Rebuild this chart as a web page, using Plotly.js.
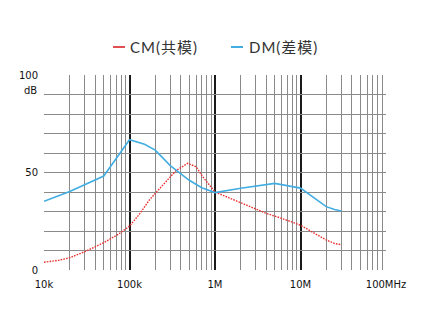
<!DOCTYPE html>
<html>
<head>
<meta charset="utf-8">
<script src="https://cdn.plot.ly/plotly-3.0.1.min.js"></script>
<style>html,body{margin:0;padding:0;background:#fff;}#chart{width:431px;height:310px;}</style>
</head>
<body>
<div id="chart"></div>
<script>
// Frequency (Hz) and attenuation (dB)
const cmFreq = [1e4, 1.5e4, 2e4, 3e4, 5e4, 7.5e4, 1e5, 1.3e5, 1.7e5, 2.7e5, 3.5e5, 4.8e5, 6e5, 7.2e5, 1e6, 2e6, 4e6, 6e6, 1e7, 1.5e7, 2e7, 2.5e7, 3e7];
const cmDb   = [4, 5, 6.3, 9.4, 14, 18.5, 22.5, 28.5, 35.8, 45.3, 51, 54.7, 53, 47.8, 40, 34.5, 29, 26.5, 23, 18.5, 15.4, 13.6, 13];
const dmFreq = [1e4, 2e4, 5e4, 1e5, 1.5e5, 2e5, 3e5, 5e5, 7e5, 1e6, 2e6, 5e6, 1e7, 1.4e7, 2e7, 2.5e7, 3e7];
const dmDb   = [35.2, 40.3, 48.2, 66.8, 64.5, 61.5, 53.5, 46, 42.2, 39.7, 41.9, 44.4, 42, 37.6, 32.5, 31, 30.3];
const seriesNames = ['CM(共模)', 'DM(差模)'];
const seriesColors = ['#e8312f', '#42ade2'];
const legendColors = ['#e05050', '#42ade2'];
const xTickVals = [1e4, 1e5, 1e6, 1e7, 1e8];
const xTickText = ['10k', '100k', '1M', '10M', '100MHz'];
const yTickVals = [0, 10, 20, 30, 40, 50, 60, 70, 80, 90, 100];
const yTickText = ['0', '', '', '', '', '50', '', '', '', '', '100'];

const traces = [
  {x: cmFreq, y: cmDb, name: seriesNames[0], type: 'scatter', mode: 'lines', showlegend: false,
   line: {color: seriesColors[0], width: 1.4, dash: '1.6px,1.2px'}},
  {x: dmFreq, y: dmDb, name: seriesNames[1], type: 'scatter', mode: 'lines', showlegend: false,
   line: {color: seriesColors[1], width: 1.6}}
];

const lf = {family: 'Lato, Noto Sans CJK SC, sans-serif', size: 15, color: '#333'};
// helpers converting pixel layout positions to paper fractions (plot spans px 44..386, 75..270)
const px = p => (p - 44) / 342;
const py = p => (270 - p) / 195;
const ly = py(47);

const layout = {
  width: 431, height: 310,
  margin: {l: 44, r: 45, t: 75, b: 40},
  paper_bgcolor: '#fff', plot_bgcolor: '#fff',
  font: {family: 'DejaVu Sans, Verdana, sans-serif', size: 10, color: '#111'},
  showlegend: false,
  xaxis: {type: 'log', range: [4, 8], tickvals: xTickVals, ticktext: xTickText,
    showgrid: true, gridcolor: '#1a1a1a', gridwidth: 2, zeroline: false, showline: false,
    ticks: '', ticklabelstandoff: 7,
    minor: {dtick: 'D1', showgrid: true, gridcolor: '#8a8a8a', gridwidth: 1, ticks: ''}},
  yaxis: {range: [0, 100], tickvals: yTickVals, ticktext: yTickText,
    showgrid: true, gridcolor: '#8a8a8a', gridwidth: 1, zeroline: false, showline: false,
    ticks: '', ticklabelstandoff: 5},
  shapes: [
    {type: 'line', xref: 'paper', yref: 'paper', x0: px(113), x1: px(125), y0: ly, y1: ly,
     line: {color: legendColors[0], width: 2}},
    {type: 'line', xref: 'paper', yref: 'paper', x0: px(231), x1: px(243), y0: ly, y1: ly,
     line: {color: legendColors[1], width: 2}}
  ],
  annotations: [
    {text: 'dB', xref: 'paper', yref: 'paper', x: 0, y: 1, xanchor: 'right', yanchor: 'top',
     xshift: -5, yshift: -8, showarrow: false, font: {family: 'DejaVu Sans, Verdana, sans-serif', size: 10, color: '#111'}},
    {text: seriesNames[0], xref: 'paper', yref: 'paper', x: px(131), y: ly, xanchor: 'left', yanchor: 'middle',
     showarrow: false, font: lf},
    {text: seriesNames[1], xref: 'paper', yref: 'paper', x: px(250), y: ly, xanchor: 'left', yanchor: 'middle',
     showarrow: false, font: lf}
  ]
};

Plotly.newPlot('chart', traces, layout, {displayModeBar: false, staticPlot: true}).then(() => {
  document.querySelectorAll('.annotation-text').forEach((t, i) => {
    if (i > 0) t.style.letterSpacing = '1px';
  });
});
</script>
</body>
</html>
